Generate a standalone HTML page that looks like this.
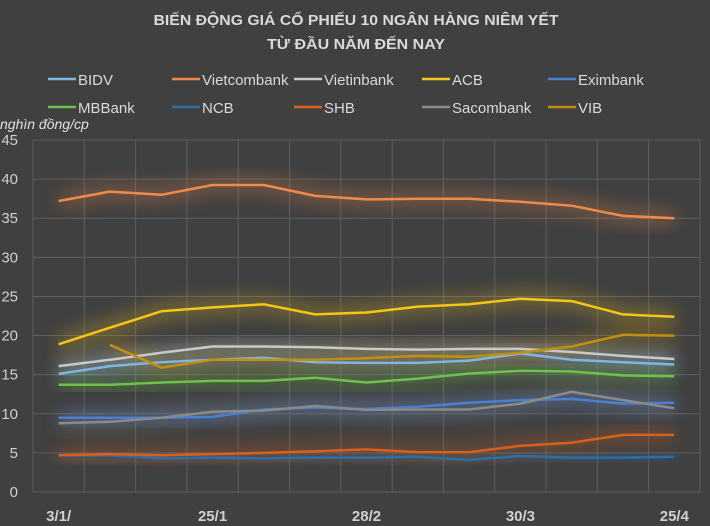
<!DOCTYPE html>
<html><head><meta charset="utf-8"><style>
body{margin:0;background:#404040;}
svg{display:block;font-family:"Liberation Sans",sans-serif;}
</style></head><body>
<svg id="chart" width="710" height="526" viewBox="0 0 710 526">
<rect x="0" y="0" width="710" height="526" fill="#404040"/>
<defs><filter id="glow" x="-10%" y="-50%" width="120%" height="200%"><feGaussianBlur stdDeviation="9"/></filter></defs>
<text x="356" y="25" text-anchor="middle" fill="#d9d9d9" font-weight="bold" font-size="15" textLength="405" lengthAdjust="spacingAndGlyphs">BIẾN ĐỘNG GIÁ CỔ PHIẾU 10 NGÂN HÀNG NIÊM YẾT</text>
<text x="356" y="49" text-anchor="middle" fill="#d9d9d9" font-weight="bold" font-size="15" textLength="178" lengthAdjust="spacingAndGlyphs">TỪ ĐẦU NĂM ĐẾN NAY</text>
<text x="0" y="129" fill="#e0e0e0" font-style="italic" font-size="14">nghìn đồng/cp</text>
<g id="grid"></g>
<g id="glows"></g>
<g id="lines"></g>
<g id="axes"></g>
<g id="legend"></g>
</svg>
<script>
const categories=["3/1/","","","25/1","","","28/2","","","30/3","","","25/4"];
const yTicks=[0,5,10,15,20,25,30,35,40,45];
const seriesNames=["BIDV","Vietcombank","Vietinbank","ACB","Eximbank","MBBank","NCB","SHB","Sacombank","VIB"];
const seriesColors=["#7fb6e0","#f08a4b","#c8c8c8","#f5c518","#4a7fd4","#6cc24a","#2e6ea6","#d8601c","#8a8a8a","#c09010"];
const bidv=[15.1,16.1,16.6,16.9,17.15,16.6,16.5,16.5,16.8,17.7,16.9,16.6,16.3];
const vietcombank=[37.2,38.4,38.0,39.25,39.25,37.85,37.4,37.5,37.5,37.1,36.6,35.3,35.0];
const vietinbank=[16.1,16.9,17.8,18.6,18.6,18.5,18.3,18.2,18.3,18.3,17.9,17.4,17.0];
const acb=[18.9,21.0,23.1,23.6,24.0,22.7,22.95,23.7,24.0,24.7,24.4,22.7,22.4];
const eximbank=[9.5,9.5,9.5,9.6,10.55,10.8,10.6,10.9,11.4,11.75,11.9,11.3,11.4];
const mbbank=[13.7,13.7,14.0,14.2,14.2,14.6,14.0,14.5,15.15,15.5,15.4,14.9,14.8];
const ncb=[4.7,4.7,4.3,4.4,4.3,4.4,4.4,4.5,4.1,4.6,4.4,4.4,4.5];
const shb=[4.7,4.85,4.7,4.85,5.0,5.2,5.45,5.1,5.1,5.9,6.3,7.3,7.3];
const sacombank=[8.8,8.97,9.5,10.25,10.4,11.0,10.5,10.55,10.55,11.3,12.8,11.75,10.7];
const vib=[null,18.8,15.9,16.9,16.9,16.9,17.1,17.4,17.3,17.8,18.6,20.1,20.0];
const allSeries=[bidv,vietcombank,vietinbank,acb,eximbank,mbbank,ncb,shb,sacombank,vib];
const NS="http://www.w3.org/2000/svg";
const L=33,R=700,T=140,B=492,yMax=45;
const colW=(R-L)/categories.length;
function xPos(i){return L+colW*(i+0.5);}
function yPos(v){return B-(v/yMax)*(B-T);}
function mk(tag,attrs,parent){const e=document.createElementNS(NS,tag);for(const k in attrs)e.setAttribute(k,attrs[k]);parent.appendChild(e);return e;}
const grid=document.getElementById('grid'),axes=document.getElementById('axes'),lines=document.getElementById('lines'),glows=document.getElementById('glows'),legend=document.getElementById('legend');
yTicks.forEach(t=>{
 const g=mk('line',{x1:L,x2:R,y1:yPos(t),y2:yPos(t),stroke:'#5e5e5e','stroke-width':1},grid);
 
 
 const tx=mk('text',{x:18,y:yPos(t)+5,'text-anchor':'end',fill:'#d0d0d0','font-size':15},axes);
 tx.textContent=t;
 
 
});
for(let i=0;i<=categories.length;i++){
 const g=mk('line',{x1:L+colW*i,x2:L+colW*i,y1:T,y2:B,stroke:'#5e5e5e','stroke-width':1},grid);
 
 
}
categories.forEach((c,i)=>{
 if(!c)return;
 const tx=mk('text',{x:xPos(i),y:521,'text-anchor':'middle',fill:'#d0d0d0','font-size':15,'font-weight':'bold'},axes);
 tx.textContent=c;
 
 
});
allSeries.forEach((s,k)=>{
 let d='';
 s.forEach((v,i)=>{if(v==null)return;d+=(d?'L':'M')+xPos(i).toFixed(1)+' '+yPos(v).toFixed(1);});
 const gl=mk('path',{d:d,fill:'none',stroke:seriesColors[k],'stroke-width':14,opacity:0.35,filter:'url(#glow)'},glows);
 
 
 const p=mk('path',{d:d,fill:'none',stroke:seriesColors[k],'stroke-width':2.5,'stroke-linejoin':'round'},lines);
 
 
});
const legX=[48,172,294,422,548];
seriesNames.forEach((n,k)=>{
 const col=k%5,row=Math.floor(k/5);
 const x=legX[col],y=row?107:79;
 const ln=mk('line',{x1:x,x2:x+28,y1:y,y2:y,stroke:seriesColors[k],'stroke-width':2.5},legend);
 
 
 const tx=mk('text',{x:x+30,y:y+6,fill:'#d9d9d9','font-size':15},legend);
 tx.textContent=n;
 
 
});
</script>
</body></html>
